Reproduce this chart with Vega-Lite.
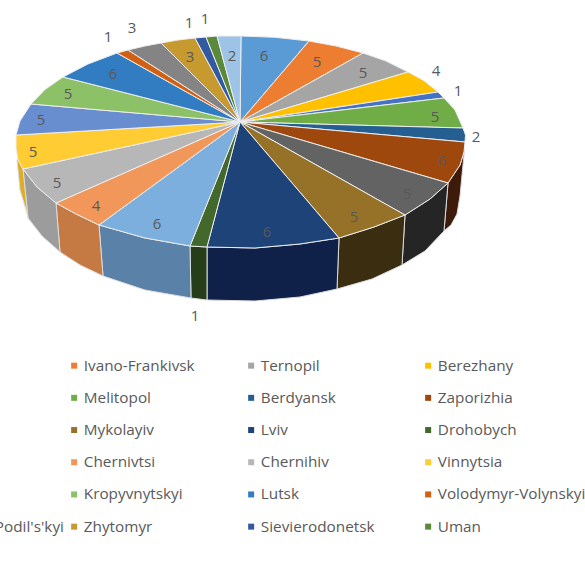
{"$schema":"https://vega.github.io/schema/vega-lite/v6.json","width":585,"height":565,"padding":0,"autosize":{"type":"none"},"background":"white",
"projection":{"type":"identity","scale":1,"translate":[0,0]},
"datasets":{
"tops":[
{"type":"Feature","properties":{"city":"Cropped 1","value":6},"geometry":{"type":"Polygon","coordinates":[[[240,122],[241,36],[275,37.3],[309,41],[240,122]]]}},
{"type":"Feature","properties":{"city":"Ivano-Frankivsk","value":5},"geometry":{"type":"Polygon","coordinates":[[[240,122],[309,41],[336,46],[363,53],[240,122]]]}},
{"type":"Feature","properties":{"city":"Ternopil","value":5},"geometry":{"type":"Polygon","coordinates":[[[240,122],[363,53],[386,61],[408,72],[240,122]]]}},
{"type":"Feature","properties":{"city":"Berezhany","value":4},"geometry":{"type":"Polygon","coordinates":[[[240,122],[408,72],[424,80.7],[438,92],[240,122]]]}},
{"type":"Feature","properties":{"city":"Cropped 2","value":1},"geometry":{"type":"Polygon","coordinates":[[[240,122],[438,92],[444,98],[240,122]]]}},
{"type":"Feature","properties":{"city":"Melitopol","value":5},"geometry":{"type":"Polygon","coordinates":[[[240,122],[444,98],[455,110],[463,128],[240,122]]]}},
{"type":"Feature","properties":{"city":"Berdyansk","value":2},"geometry":{"type":"Polygon","coordinates":[[[240,122],[463,128],[465.5,135],[465,142],[240,122]]]}},
{"type":"Feature","properties":{"city":"Zaporizhia","value":6},"geometry":{"type":"Polygon","coordinates":[[[240,122],[465,142],[464,152],[460,165],[448,183],[240,122]]]}},
{"type":"Feature","properties":{"city":"Cropped 3","value":5},"geometry":{"type":"Polygon","coordinates":[[[240,122],[448,183],[430,199],[405,215],[240,122]]]}},
{"type":"Feature","properties":{"city":"Mykolayiv","value":5},"geometry":{"type":"Polygon","coordinates":[[[240,122],[405,215],[374,227],[339,238],[240,122]]]}},
{"type":"Feature","properties":{"city":"Lviv","value":6},"geometry":{"type":"Polygon","coordinates":[[[240,122],[339,238],[300,244],[255,248],[207,247],[240,122]]]}},
{"type":"Feature","properties":{"city":"Drohobych","value":1},"geometry":{"type":"Polygon","coordinates":[[[240,122],[207,247],[190,246],[240,122]]]}},
{"type":"Feature","properties":{"city":"Cropped 4","value":6},"geometry":{"type":"Polygon","coordinates":[[[240,122],[190,246],[145,238],[99,225],[240,122]]]}},
{"type":"Feature","properties":{"city":"Chernivtsi","value":4},"geometry":{"type":"Polygon","coordinates":[[[240,122],[99,225],[76,214],[56,203],[240,122]]]}},
{"type":"Feature","properties":{"city":"Chernihiv","value":5},"geometry":{"type":"Polygon","coordinates":[[[240,122],[56,203],[37,187],[23,169],[240,122]]]}},
{"type":"Feature","properties":{"city":"Vinnytsia","value":5},"geometry":{"type":"Polygon","coordinates":[[[240,122],[23,169],[18,160],[16,148],[16,135],[240,122]]]}},
{"type":"Feature","properties":{"city":"Cropped 5","value":5},"geometry":{"type":"Polygon","coordinates":[[[240,122],[16,135],[20,121],[31,104],[240,122]]]}},
{"type":"Feature","properties":{"city":"Kropyvnytskyi","value":5},"geometry":{"type":"Polygon","coordinates":[[[240,122],[31,104],[45,89.5],[63,77],[240,122]]]}},
{"type":"Feature","properties":{"city":"Lutsk","value":6},"geometry":{"type":"Polygon","coordinates":[[[240,122],[63,77],[88,64],[117,53],[240,122]]]}},
{"type":"Feature","properties":{"city":"Volodymyr-Volynskyi","value":1},"geometry":{"type":"Polygon","coordinates":[[[240,122],[117,53],[128,50],[240,122]]]}},
{"type":"Feature","properties":{"city":"Kamianets-Podil's'kyi","value":3},"geometry":{"type":"Polygon","coordinates":[[[240,122],[128,50],[145,46],[161,43],[240,122]]]}},
{"type":"Feature","properties":{"city":"Zhytomyr","value":3},"geometry":{"type":"Polygon","coordinates":[[[240,122],[161,43],[178,40],[195,38],[240,122]]]}},
{"type":"Feature","properties":{"city":"Sievierodonetsk","value":1},"geometry":{"type":"Polygon","coordinates":[[[240,122],[195,38],[206,37],[240,122]]]}},
{"type":"Feature","properties":{"city":"Uman","value":1},"geometry":{"type":"Polygon","coordinates":[[[240,122],[206,37],[217,36],[240,122]]]}},
{"type":"Feature","properties":{"city":"Cropped 6","value":2},"geometry":{"type":"Polygon","coordinates":[[[240,122],[217,36],[241,36],[240,122]]]}}
],
"walls":[
{"type":"Feature","properties":{"city":"Zaporizhia"},"geometry":{"type":"Polygon","coordinates":[[[464.5,150],[460,165],[448,183],[444,231],[451,225],[457,214],[460,196],[462,175],[464.5,150]]]}},
{"type":"Feature","properties":{"city":"Cropped 3"},"geometry":{"type":"Polygon","coordinates":[[[448,183],[430,199],[405,215],[402,265],[425,251],[444,231],[448,183]]]}},
{"type":"Feature","properties":{"city":"Mykolayiv"},"geometry":{"type":"Polygon","coordinates":[[[405,215],[374,227],[339,238],[337,289],[372,279],[402,265],[405,215]]]}},
{"type":"Feature","properties":{"city":"Lviv"},"geometry":{"type":"Polygon","coordinates":[[[339,238],[300,244],[255,248],[207,247],[207,300],[255,301],[300,297],[337,289],[339,238]]]}},
{"type":"Feature","properties":{"city":"Drohobych"},"geometry":{"type":"Polygon","coordinates":[[[207,247],[190,246],[191,298],[207,300],[207,247]]]}},
{"type":"Feature","properties":{"city":"Cropped 4"},"geometry":{"type":"Polygon","coordinates":[[[190,246],[145,238],[99,225],[103,276],[145,290],[191,298],[190,246]]]}},
{"type":"Feature","properties":{"city":"Chernivtsi"},"geometry":{"type":"Polygon","coordinates":[[[99,225],[76,214],[56,203],[60,252],[80,265],[103,276],[99,225]]]}},
{"type":"Feature","properties":{"city":"Chernihiv"},"geometry":{"type":"Polygon","coordinates":[[[56,203],[37,187],[23,169],[28,218],[42,236],[60,252],[56,203]]]}},
{"type":"Feature","properties":{"city":"Vinnytsia"},"geometry":{"type":"Polygon","coordinates":[[[23,169],[18,158],[17,160],[20,190],[27,213],[28,218],[23,169]]]}}
],
"labels":[
{"city":"Cropped 1","value":6,"lon":264,"lat":56},
{"city":"Ivano-Frankivsk","value":5,"lon":317,"lat":62},
{"city":"Ternopil","value":5,"lon":363,"lat":73},
{"city":"Berezhany","value":4,"lon":436,"lat":71},
{"city":"Cropped 2","value":1,"lon":458,"lat":91},
{"city":"Melitopol","value":5,"lon":435,"lat":117},
{"city":"Berdyansk","value":2,"lon":476,"lat":137},
{"city":"Zaporizhia","value":6,"lon":442,"lat":161},
{"city":"Cropped 3","value":5,"lon":407,"lat":194},
{"city":"Mykolayiv","value":5,"lon":354,"lat":217},
{"city":"Lviv","value":6,"lon":267,"lat":232},
{"city":"Drohobych","value":1,"lon":195,"lat":316},
{"city":"Cropped 4","value":6,"lon":157,"lat":224},
{"city":"Chernivtsi","value":4,"lon":96,"lat":206},
{"city":"Chernihiv","value":5,"lon":57,"lat":183},
{"city":"Vinnytsia","value":5,"lon":33,"lat":152},
{"city":"Cropped 5","value":5,"lon":41,"lat":120},
{"city":"Kropyvnytskyi","value":5,"lon":68,"lat":94},
{"city":"Lutsk","value":6,"lon":113,"lat":74},
{"city":"Volodymyr-Volynskyi","value":1,"lon":108,"lat":37},
{"city":"Kamianets-Podil's'kyi","value":3,"lon":132,"lat":28},
{"city":"Zhytomyr","value":3,"lon":190,"lat":57},
{"city":"Sievierodonetsk","value":1,"lon":189,"lat":23},
{"city":"Uman","value":1,"lon":205,"lat":19},
{"city":"Cropped 6","value":2,"lon":232,"lat":56}
]},
"layer":[
{"data":{"name":"walls"},"mark":{"type":"geoshape","stroke":"#dcdcdc","strokeWidth":1,"fillOpacity":1},
"encoding":{
"fill":{"field":"properties.city","type":"nominal","legend":null,"scale":{"domain":["Zaporizhia","Cropped 3","Mykolayiv","Lviv","Drohobych","Cropped 4","Chernivtsi","Chernihiv","Vinnytsia"],"range":["#3e1a0a","#252525","#3a2d10","#0f2148","#263d1a","#5a82a8","#c47a42","#9c9c9c","#dcae28"]}}}},
{"data":{"name":"tops"},"mark":{"type":"geoshape","stroke":"#eeeeee","strokeWidth":1,"fillOpacity":1},
"encoding":{
"color":{"field":"properties.city","type":"nominal",
"scale":{"domain":["Cropped 1","Ivano-Frankivsk","Ternopil","Berezhany","Cropped 2","Melitopol","Berdyansk","Zaporizhia","Cropped 3","Mykolayiv","Lviv","Drohobych","Cropped 4","Chernivtsi","Chernihiv","Vinnytsia","Cropped 5","Kropyvnytskyi","Lutsk","Volodymyr-Volynskyi","Kamianets-Podil's'kyi","Zhytomyr","Sievierodonetsk","Uman","Cropped 6"],
"range":["#5B9BD5","#ED7D31","#A5A5A5","#FFC000","#4472C4","#70AD47","#255E91","#9E480E","#636363","#967228","#1e4379","#43682B","#7CAFDD","#F1975A","#B7B7B7","#FFCD33","#698ED0","#8CC168","#327DC2","#D26012","#848484","#C69A2E","#335AA1","#5A8A39","#9DC3E6"]},
"legend":{"orient":"none","legendX":-110.5,"legendY":358,"direction":"horizontal","columns":4,"title":null,"symbolType":"square","symbolSize":36,"symbolStrokeWidth":0,"symbolOpacity":1,"labelFont":"Open Sans","labelFontSize":15.3,"labelColor":"#595959","labelLimit":400,"labelOffset":2,"gridAlign":"all","columnPadding":2,"rowPadding":16.2,"labelExpr":"datum.label == \"Kamianets-Podil's'kyi\" ? \"..\" + datum.label : datum.label"}}}},
{"data":{"name":"labels"},"mark":{"type":"text","font":"Open Sans","fontSize":15,"fill":"#595959","align":"center","baseline":"middle"},
"encoding":{"longitude":{"field":"lon","type":"quantitative"},"latitude":{"field":"lat","type":"quantitative"},"text":{"field":"value","type":"quantitative"}}}
]}
